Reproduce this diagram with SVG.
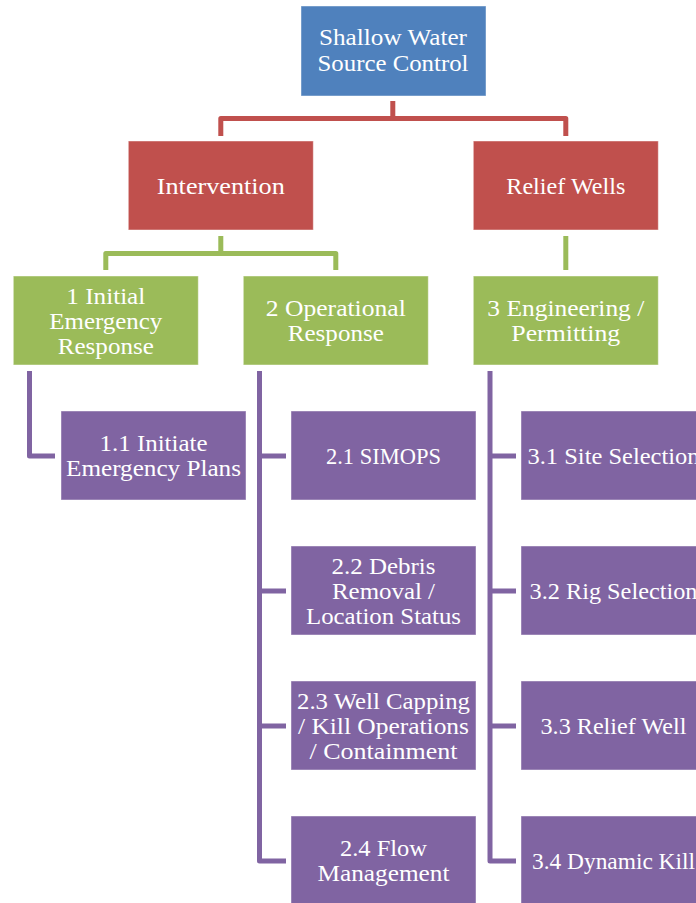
<svg xmlns="http://www.w3.org/2000/svg" width="696" height="903" viewBox="0 0 696 903">
  <style>
    .box { stroke: #ffffff; stroke-opacity: 0.45; stroke-width: 1; }
    .blue { fill: #4F81BD; }
    .red { fill: #C0504D; }
    .green { fill: #9BBB59; }
    .purple { fill: #8064A2; }
    .lbl { font-family: "Liberation Serif", "Times New Roman", serif; font-size: 23px; fill: #ffffff; text-anchor: middle; }
    .wire { fill: none; stroke-width: 5; stroke-linejoin: round; stroke-linecap: butt; }
    .w-red { stroke: #C0504D; }
    .w-green { stroke: #9BBB59; }
    .w-purple { stroke: #8064A2; }
  </style>
  <rect width="696" height="903" fill="#ffffff"/>

  <!-- connectors -->
  <g id="connectors">
    <path class="wire w-red" d="M392.8,101 V118.5 M220.8,136 V118.5 H565.8 V136"/>
    <path class="wire w-green" d="M220.8,236 V253.5 M105.8,270 V253.5 H335.8 V270"/>
    <path class="wire w-green" d="M565.8,236 V270"/>
    <path class="wire w-purple" d="M29.5,371 V456 H55"/>
    <path class="wire w-purple" d="M259.5,371 V861 H286 M259.5,456 H286 M259.5,591 H286 M259.5,726 H286"/>
    <path class="wire w-purple" d="M490,371 V861 H516 M490,456 H516 M490,591 H516 M490,726 H516"/>
  </g>

  <!-- root -->
  <g id="root">
    <rect class="box blue" x="301" y="6" width="185" height="90"/>
    <text class="lbl" x="393" y="45" textLength="148" lengthAdjust="spacingAndGlyphs">Shallow Water</text>
    <text class="lbl" x="393" y="71" textLength="151" lengthAdjust="spacingAndGlyphs">Source Control</text>
  </g>

  <!-- second level -->
  <g id="intervention">
    <rect class="box red" x="128.3" y="141" width="185" height="89"/>
    <text class="lbl" x="220.8" y="193.5" textLength="128" lengthAdjust="spacingAndGlyphs">Intervention</text>
  </g>
  <g id="relief-wells">
    <rect class="box red" x="473.3" y="141" width="185" height="89"/>
    <text class="lbl" x="565.8" y="193.5" textLength="119" lengthAdjust="spacingAndGlyphs">Relief Wells</text>
  </g>

  <!-- third level -->
  <g id="n1">
    <rect class="box green" x="13.3" y="276" width="185" height="89"/>
    <text class="lbl" x="105.8" y="303.5" textLength="79" lengthAdjust="spacingAndGlyphs">1 Initial</text>
    <text class="lbl" x="105.8" y="328.5" textLength="113" lengthAdjust="spacingAndGlyphs">Emergency</text>
    <text class="lbl" x="105.8" y="353.5" textLength="96" lengthAdjust="spacingAndGlyphs">Response</text>
  </g>
  <g id="n2">
    <rect class="box green" x="243.3" y="276" width="185" height="89"/>
    <text class="lbl" x="335.8" y="316" textLength="140" lengthAdjust="spacingAndGlyphs">2 Operational</text>
    <text class="lbl" x="335.8" y="341" textLength="96" lengthAdjust="spacingAndGlyphs">Response</text>
  </g>
  <g id="n3">
    <rect class="box green" x="473.3" y="276" width="185" height="89"/>
    <text class="lbl" x="565.8" y="316" textLength="157" lengthAdjust="spacingAndGlyphs">3 Engineering /</text>
    <text class="lbl" x="565.8" y="341" textLength="109" lengthAdjust="spacingAndGlyphs">Permitting</text>
  </g>

  <!-- leaf tasks -->
  <g id="n1-1">
    <rect class="box purple" x="61" y="411" width="185" height="89"/>
    <text class="lbl" x="153.5" y="451" textLength="108" lengthAdjust="spacingAndGlyphs">1.1 Initiate</text>
    <text class="lbl" x="153.5" y="476" textLength="175" lengthAdjust="spacingAndGlyphs">Emergency Plans</text>
  </g>

  <g id="n2-1">
    <rect class="box purple" x="291" y="411" width="185" height="89"/>
    <text class="lbl" x="383.5" y="463.5" textLength="115" lengthAdjust="spacingAndGlyphs">2.1 SIMOPS</text>
  </g>
  <g id="n2-2">
    <rect class="box purple" x="291" y="546" width="185" height="89"/>
    <text class="lbl" x="383.5" y="573.5" textLength="104" lengthAdjust="spacingAndGlyphs">2.2 Debris</text>
    <text class="lbl" x="383.5" y="598.5" textLength="103" lengthAdjust="spacingAndGlyphs">Removal /</text>
    <text class="lbl" x="383.5" y="623.5" textLength="155" lengthAdjust="spacingAndGlyphs">Location Status</text>
  </g>
  <g id="n2-3">
    <rect class="box purple" x="291" y="681" width="185" height="89"/>
    <text class="lbl" x="383.5" y="708.5" textLength="173" lengthAdjust="spacingAndGlyphs">2.3 Well Capping</text>
    <text class="lbl" x="383.5" y="733.5" textLength="171" lengthAdjust="spacingAndGlyphs">/ Kill Operations</text>
    <text class="lbl" x="383.5" y="758.5" textLength="148" lengthAdjust="spacingAndGlyphs">/ Containment</text>
  </g>
  <g id="n2-4">
    <rect class="box purple" x="291" y="816" width="185" height="89"/>
    <text class="lbl" x="383.5" y="856" textLength="87" lengthAdjust="spacingAndGlyphs">2.4 Flow</text>
    <text class="lbl" x="383.5" y="881" textLength="132" lengthAdjust="spacingAndGlyphs">Management</text>
  </g>

  <g id="n3-1">
    <rect class="box purple" x="521" y="411" width="185" height="89"/>
    <text class="lbl" x="613.5" y="463.5" textLength="172" lengthAdjust="spacingAndGlyphs">3.1 Site Selection</text>
  </g>
  <g id="n3-2">
    <rect class="box purple" x="521" y="546" width="185" height="89"/>
    <text class="lbl" x="613.5" y="598.5" textLength="168" lengthAdjust="spacingAndGlyphs">3.2 Rig Selection</text>
  </g>
  <g id="n3-3">
    <rect class="box purple" x="521" y="681" width="185" height="89"/>
    <text class="lbl" x="613.5" y="733.5" textLength="146" lengthAdjust="spacingAndGlyphs">3.3 Relief Well</text>
  </g>
  <g id="n3-4">
    <rect class="box purple" x="521" y="816" width="185" height="89"/>
    <text class="lbl" x="613.5" y="868.5" textLength="163" lengthAdjust="spacingAndGlyphs">3.4 Dynamic Kill</text>
  </g>
</svg>
